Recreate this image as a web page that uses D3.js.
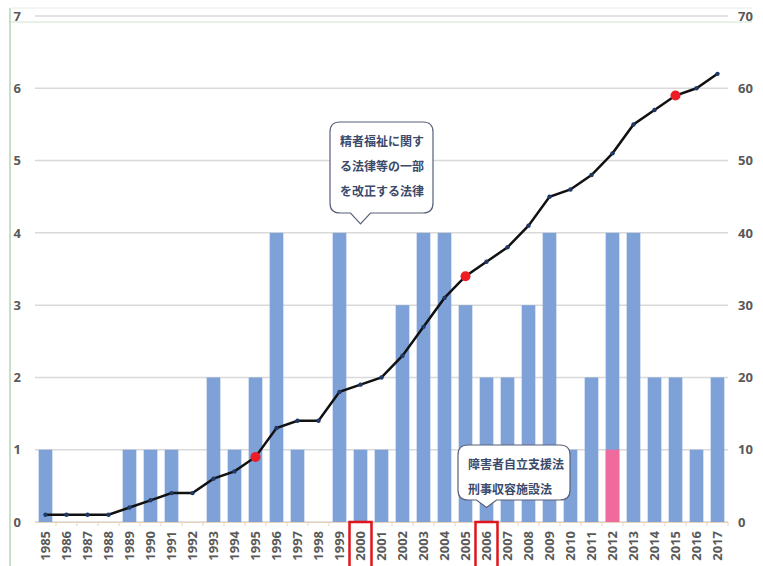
<!DOCTYPE html>
<html>
<head>
<meta charset="utf-8">
<script src="https://cdn.jsdelivr.net/npm/d3@7"></script>
<style>
body { margin: 0; background: #fff; }
svg text { font-family: "Open Sans", "Noto Sans CJK JP", sans-serif; }
</style>
</head>
<body>
<div id="chart"></div>
<script>
var years = [1985,1986,1987,1988,1989,1990,1991,1992,1993,1994,1995,1996,1997,1998,1999,2000,
	2001,2002,2003,2004,2005,2006,2007,2008,2009,2010,2011,2012,2013,2014,2015,2016,2017];
var counts = [1,0,0,0,1,1,1,0,2,1,2,4,1,0,4,1,1,3,4,4,3,2,2,3,4,1,2,4,4,2,2,1,2];
var pinkPart = { 2012: 1 };
var cumulative = [1,1,1,1,2,3,4,4,6,7,9,13,14,14,18,19,20,23,27,31,34,36,38,41,45,46,48,51,55,57,59,60,62];
var redYears = [1995, 2005, 2015];
var boxedYears = [2000, 2006];
var leftTicks = [0,1,2,3,4,5,6,7];
var rightTicks = [0,10,20,30,40,50,60,70];
var note1 = ["精者福祉に関す", "る法律等の一部", "を改正する法律"];
var note2 = ["障害者自立支援法", "刑事収容施設法"];

var width = 763, height = 566;
var margin = { top: 16, right: 35, bottom: 44, left: 35 };
var w = width - margin.left - margin.right,
	h = height - margin.top - margin.bottom;

var svg = d3.select("#chart").append("svg")
	.attr("width", width)
	.attr("height", height);

// frame
svg.append("line").attr("x1", 10).attr("x2", 752).attr("y1", 22).attr("y2", 22)
	.style("stroke", "#cfe3cf").style("stroke-width", 1);
svg.append("line").attr("x1", 10).attr("x2", 10).attr("y1", 8).attr("y2", 566)
	.style("stroke", "#b5d6b5").style("stroke-width", 1.5);
svg.append("line").attr("x1", 10).attr("x2", 752).attr("y1", 8).attr("y2", 8)
	.style("stroke", "#e2efe2").style("stroke-width", 1);

var g = svg.append("g")
	.attr("transform", "translate(" + margin.left + "," + margin.top + ")");

var x = d3.scaleBand()
	.domain(years)
	.range([0, w])
	.paddingInner(0.35)
	.paddingOuter(0.175);

var y = d3.scaleLinear().domain([0, 7]).range([h, 0]);
var y2 = d3.scaleLinear().domain([0, 70]).range([h, 0]);

// gridlines
g.selectAll("line.grid")
	.data(leftTicks)
	.enter().append("line")
	.attr("class", "grid")
	.attr("x1", 0).attr("x2", w)
	.attr("y1", function(d){ return y(d); })
	.attr("y2", function(d){ return y(d); })
	.style("stroke", "#d9d9d9")
	.style("stroke-width", 1.5);

// bars
g.selectAll("rect.bar")
	.data(years)
	.enter().append("rect")
	.attr("class", "bar")
	.attr("x", function(d){ return x(d); })
	.attr("width", x.bandwidth())
	.attr("y", function(d, i){ return y(counts[i]); })
	.attr("height", function(d, i){ return h - y(counts[i]); })
	.style("fill", "#7ea2d8");

g.selectAll("rect.pink")
	.data(Object.keys(pinkPart).map(Number))
	.enter().append("rect")
	.attr("class", "pink")
	.attr("x", function(d){ return x(d); })
	.attr("width", x.bandwidth())
	.attr("y", function(d){ return y(pinkPart[d]); })
	.attr("height", function(d){ return h - y(pinkPart[d]); })
	.style("fill", "#ef6b9c");

// x axis
var xAxis = d3.axisBottom(x).tickSize(4).tickSizeOuter(0);
var xg = g.append("g")
	.attr("transform", "translate(0," + h + ")")
	.call(xAxis);
xg.select(".domain").style("stroke", "#e6d3b8");
xg.selectAll(".tick line")
	.attr("transform", "translate(" + (x.step() / 2) + ",0)")
	.style("stroke", "#e6d3b8");
xg.selectAll(".tick text")
	.attr("transform", "rotate(-90)")
	.attr("text-anchor", "end")
	.attr("x", -9)
	.attr("y", 0)
	.attr("dy", "0.35em")
	.style("font-size", "13px")
	.style("font-weight", "bold")
	.style("fill", "#595959");

// red boxes around some year labels
g.selectAll("rect.boxed")
	.data(boxedYears)
	.enter().append("rect")
	.attr("class", "boxed")
	.attr("x", function(d){ return x(d) + x.bandwidth() / 2 - 11; })
	.attr("y", h)
	.attr("width", 22)
	.attr("height", 52)
	.style("fill", "none")
	.style("stroke", "#e0141b")
	.style("stroke-width", 2.5);

// y axes
var yl = g.append("g").call(d3.axisLeft(y).tickValues(leftTicks).tickFormat(d3.format("d")).tickSize(0).tickPadding(14));
var yr = g.append("g").attr("transform", "translate(" + w + ",0)")
	.call(d3.axisRight(y2).tickValues(rightTicks).tickSize(0).tickPadding(10));
[yl, yr].forEach(function(a){
	a.select(".domain").remove();
	a.selectAll("text")
		.style("font-size", "13px")
		.style("font-weight", "bold")
		.style("fill", "#595959");
});

// cumulative line
var line = d3.line()
	.x(function(d, i){ return x(years[i]) + x.bandwidth() / 2; })
	.y(function(d){ return y2(d); });

g.append("path")
	.attr("d", line(cumulative))
	.attr("fill", "none")
	.style("stroke", "#111")
	.style("stroke-width", 2.5);

g.selectAll("circle.pt")
	.data(cumulative)
	.enter().append("circle")
	.attr("class", "pt")
	.attr("cx", function(d, i){ return x(years[i]) + x.bandwidth() / 2; })
	.attr("cy", function(d){ return y2(d); })
	.attr("r", function(d, i){ return redYears.indexOf(years[i]) >= 0 ? 5 : 2.2; })
	.style("fill", function(d, i){ return redYears.indexOf(years[i]) >= 0 ? "#ee1c25" : "#1f3864"; });

// callouts
function callout(lines, year, tipY, bx, by, bw, bh) {
	var tipX = x(year) + x.bandwidth() / 2;
	var r = 10, bot = by + bh;
	var p = "M" + (bx + r) + "," + by +
		"H" + (bx + bw - r) + "Q" + (bx + bw) + "," + by + " " + (bx + bw) + "," + (by + r) +
		"V" + (bot - r) + "Q" + (bx + bw) + "," + bot + " " + (bx + bw - r) + "," + bot +
		"H" + (tipX + 10) + "L" + tipX + "," + tipY + "L" + (tipX - 10) + "," + bot +
		"H" + (bx + r) + "Q" + bx + "," + bot + " " + bx + "," + (bot - r) +
		"V" + (by + r) + "Q" + bx + "," + by + " " + (bx + r) + "," + by + "Z";
	g.append("path").attr("d", p)
		.style("fill", "#fff")
		.style("stroke", "#59607a")
		.style("stroke-width", 1.2);
	g.selectAll(null)
		.data(lines)
		.enter().append("text")
		.attr("x", bx + 10)
		.attr("y", function(d, i){ return by + 24 + i * 25; })
		.text(function(d){ return d; })
		.style("font-family", "'Noto Sans CJK JP', sans-serif")
		.style("font-size", "12px")
		.style("font-weight", "bold")
		.style("fill", "#3b4a6b");
}
callout(note1, 2000, y(4) - 9, 295, 106, 103, 91);
callout(note2, 2006, y(0.2), 423, 429, 112, 55);
</script>
</body>
</html>
